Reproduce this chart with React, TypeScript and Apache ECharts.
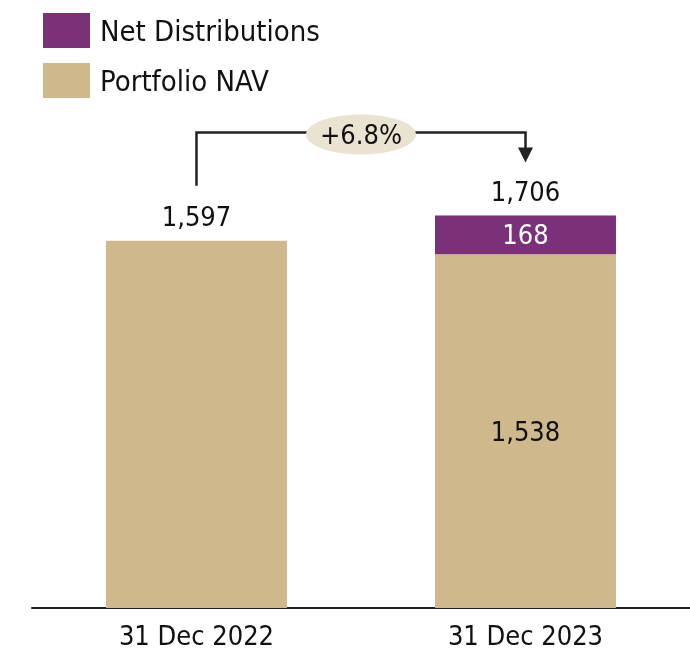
import React, { useEffect, useRef } from "react";
import * as echarts from "echarts";

const categories = ["31 Dec 2022", "31 Dec 2023"];
const portfolioNav = [1597, 1538];
const netDistributions = [null, 168];
const totals = [1597, 1706];

const FONT = "'Liberation Sans Narrow', 'DejaVu Sans Condensed', 'Roboto', sans-serif";
const PURPLE = "#7a3177";
const TAN = "#cfb88c";
const fmt = (v: number) => v.toLocaleString("en-US");

export default function App() {
  const ref = useRef<HTMLDivElement>(null);
  useEffect(() => {
    if (!ref.current) return;
    const chart = echarts.init(ref.current, undefined, { renderer: "svg" });
    chart.setOption({
      animation: false,
      textStyle: { fontFamily: FONT },
      legend: {
        data: ["Net Distributions", "Portfolio NAV"],
        orient: "vertical",
        left: 38,
        top: 8,
        itemWidth: 47,
        itemHeight: 35,
        itemGap: 15,
        icon: "rect",
        selectedMode: false,
        textStyle: { fontFamily: FONT, fontSize: 29, color: "#111", padding: [0, 0, 0, 5] },
      },
      grid: { left: 32, right: 0, top: 148, bottom: 45 },
      xAxis: {
        type: "category",
        data: categories,
        axisLine: { lineStyle: { color: "#222", width: 2 } },
        axisTick: { show: false },
        axisLabel: { fontFamily: FONT, fontSize: 27, color: "#111", margin: 14 },
      },
      yAxis: { type: "value", min: 0, max: 2000, show: false, splitLine: { show: false } },
      series: [
        {
          name: "Portfolio NAV",
          type: "bar",
          stack: "s",
          barWidth: "55%",
          itemStyle: { color: TAN },
          data: portfolioNav.map((v, i) => ({
            value: v,
            label: {
              show: i === 1,
              position: "inside",
              formatter: () => fmt(v),
              fontFamily: FONT,
              fontSize: 27,
              color: "#111",
            },
          })),
        },
        {
          name: "Net Distributions",
          type: "bar",
          stack: "s",
          itemStyle: { color: PURPLE },
          label: {
            show: true,
            position: "inside",
            formatter: (p: any) => fmt(p.value),
            fontFamily: FONT,
            fontSize: 27,
            color: "#fff",
          },
          data: netDistributions,
        },
        {
          name: "Total",
          type: "bar",
          stack: "s",
          itemStyle: { color: "transparent" },
          label: {
            show: true,
            position: "top",
            distance: 11,
            formatter: (p: any) => fmt(totals[p.dataIndex]),
            fontFamily: FONT,
            fontSize: 27,
            color: "#111",
          },
          data: totals.map(() => 0),
        },
      ],
    });

    const p0 = chart.convertToPixel({ gridIndex: 0 }, [0, totals[0]]) as number[];
    const p1 = chart.convertToPixel({ gridIndex: 0 }, [1, totals[1]]) as number[];
    const lineY = p1[1] - 83;
    const leftBottom = p0[1] - 55;
    const tipY = p1[1] - 53;
    const midX = (p0[0] + p1[0]) / 2;
    const growth = ((totals[1] / totals[0] - 1) * 100).toFixed(1);
    const stroke = { stroke: "#222", lineWidth: 2.5 };
    chart.setOption({
      graphic: [
        { type: "polyline", shape: { points: [[p0[0], leftBottom], [p0[0], lineY], [p1[0], lineY], [p1[0], tipY - 12]] }, style: { ...stroke, fill: null } },
        { type: "polygon", shape: { points: [[p1[0] - 7.5, tipY - 15], [p1[0] + 7.5, tipY - 15], [p1[0], tipY]] }, style: { fill: "#222" } },
        { type: "ellipse", shape: { cx: midX, cy: lineY + 2, rx: 55, ry: 20 }, style: { fill: "#ebe3d2" } },
        {
          type: "text",
          x: midX,
          y: lineY + 2,
          style: { text: `+${growth}%`, fontFamily: FONT, fontSize: 27, fill: "#111", align: "center", verticalAlign: "middle" },
        },
      ],
    });
    return () => chart.dispose();
  }, []);
  return <div ref={ref} style={{ position: "fixed", left: 0, top: 0, width: 690, height: 653 }} />;
}
